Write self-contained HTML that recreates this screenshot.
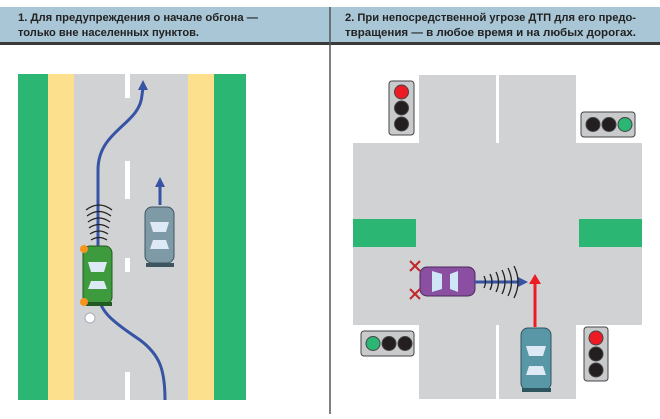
<!DOCTYPE html>
<html><head><meta charset="utf-8"><style>
body{margin:0;background:#fff;width:660px;height:414px;overflow:hidden;font-family:"Liberation Sans","DejaVu Sans",sans-serif}
</style></head><body>
<svg width="660" height="414" viewBox="0 0 660 414" xmlns="http://www.w3.org/2000/svg">
<rect x="0" y="7" width="660" height="36" fill="#a9c6d6"/>
<rect x="0" y="42" width="660" height="3" fill="#3a3a3a"/>
<line x1="330" y1="7" x2="330" y2="414" stroke="#555" stroke-width="1.5"/>
<g font-family="Liberation Sans, sans-serif" font-weight="bold" font-size="11" fill="#222">
<text x="18" y="21" textLength="240" lengthAdjust="spacingAndGlyphs">1. Для предупреждения о начале обгона —</text>
<text x="18" y="36" textLength="181" lengthAdjust="spacingAndGlyphs">только вне населенных пунктов.</text>
<text x="345" y="21" textLength="291" lengthAdjust="spacingAndGlyphs">2. При непосредственной угрозе ДТП для его предо-</text>
<text x="345" y="36" textLength="291" lengthAdjust="spacingAndGlyphs">твращения — в любое время и на любых дорогах.</text>
</g>
<!-- left road -->
<rect x="18" y="74" width="30" height="326" fill="#2bb673"/>
<rect x="48" y="74" width="26" height="326" fill="#fde08e"/>
<rect x="74" y="74" width="114" height="326" fill="#d1d2d4"/>
<rect x="188" y="74" width="26" height="326" fill="#fde08e"/>
<rect x="214" y="74" width="32" height="326" fill="#2bb673"/>
<g fill="#fff"><rect x="125" y="74" width="5" height="24"/><rect x="125" y="161" width="5" height="38"/><rect x="125" y="258" width="5" height="14"/><rect x="125" y="372" width="5" height="28"/></g>
<path d="M165 400 C165 370 160 355 140 340 C110 320 98 310 98 290 L98 170 C98 130 140 125 142 95 L143 88" fill="none" stroke="#3753a4" stroke-width="3"/>
<polygon points="143,80 138,90 148,90" fill="#3753a4"/>
<line x1="160" y1="205" x2="160" y2="185" stroke="#3753a4" stroke-width="3"/>
<polygon points="160,177 155,187 165,187" fill="#3753a4"/>
<g fill="none" stroke="#222" stroke-width="1.3">
<path d="M86 210 Q99 200 112 210"/><path d="M87 216 Q99 207 111 216"/><path d="M88 222 Q99 214 110 222"/><path d="M89 228 Q99 221 109 228"/><path d="M90 234 Q99 228 108 234"/><path d="M91 240 Q99 235 107 240"/>
</g>
<!-- green car -->
<rect x="83" y="246" width="29" height="58" rx="7" fill="#3d9a3d" stroke="#225a22"/>
<polygon points="88,262 107,262 104,272 91,272" fill="#dde9f5"/>
<polygon points="88,289 107,289 104,281 91,281" fill="#dde9f5"/>
<rect x="86" y="302" width="26" height="4" fill="#225a22"/>
<circle cx="84" cy="249" r="4" fill="#f7941d"/>
<circle cx="84" cy="302" r="4" fill="#f7941d"/>
<circle cx="90" cy="318" r="5" fill="#fff" stroke="#aab"/>
<!-- gray car -->
<rect x="145" y="207" width="29" height="56" rx="7" fill="#7d9aa6" stroke="#3e5560"/>
<polygon points="150,222 169,222 166,232 153,232" fill="#dde9f5"/>
<polygon points="150,249 169,249 166,240 153,240" fill="#dde9f5"/>
<rect x="146" y="263" width="28" height="4" fill="#3e5560"/>
<!-- intersection -->
<rect x="353" y="143" width="289" height="182" fill="#d1d2d4"/>
<rect x="419" y="75" width="157" height="70" fill="#d1d2d4"/>
<rect x="419" y="323" width="157" height="76" fill="#d1d2d4"/>
<rect x="496" y="75" width="3" height="68" fill="#fff"/>
<rect x="496" y="325" width="3" height="74" fill="#fff"/>
<rect x="353" y="219" width="63" height="28" fill="#2bb673"/>
<rect x="579" y="219" width="63" height="28" fill="#2bb673"/>
<!-- lights -->
<g stroke="#444" stroke-width="1">
<rect x="389" y="81" width="25" height="54" rx="3" fill="#c9cacc"/>
<circle cx="401.5" cy="92" r="7" fill="#ed1c24"/><circle cx="401.5" cy="108" r="7" fill="#231f20"/><circle cx="401.5" cy="124" r="7" fill="#231f20"/>
<rect x="581" y="112" width="54" height="25" rx="3" fill="#c9cacc"/>
<circle cx="593" cy="124.5" r="7" fill="#231f20"/><circle cx="609" cy="124.5" r="7" fill="#231f20"/><circle cx="625" cy="124.5" r="7" fill="#2bb673"/>
<rect x="361" y="331" width="53" height="25" rx="3" fill="#c9cacc"/>
<circle cx="373" cy="343.5" r="7" fill="#2bb673"/><circle cx="389" cy="343.5" r="7" fill="#231f20"/><circle cx="405" cy="343.5" r="7" fill="#231f20"/>
<rect x="584" y="327" width="24" height="54" rx="3" fill="#c9cacc"/>
<circle cx="596" cy="338" r="7" fill="#ed1c24"/><circle cx="596" cy="354" r="7" fill="#231f20"/><circle cx="596" cy="370" r="7" fill="#231f20"/>
</g>
<!-- purple car -->
<rect x="420" y="267" width="55" height="29" rx="7" fill="#8a4fa0" stroke="#4b2a5a"/>
<polygon points="432,271 442,274 442,289 432,292" fill="#cfe6f6"/>
<polygon points="458,271 450,274 450,289 458,292" fill="#cfe6f6"/>
<line x1="475" y1="282" x2="522" y2="282" stroke="#3753a4" stroke-width="3"/>
<polygon points="528,282 518,277 518,287" fill="#3753a4"/>
<g fill="none" stroke="#222" stroke-width="1.3">
<path d="M484 276 Q487 282 484 288"/><path d="M490 274 Q494 282 490 290"/><path d="M496 272 Q501 282 496 292"/><path d="M502 270 Q508 282 502 294"/><path d="M508 268 Q515 282 508 296"/><path d="M514 266 Q522 282 514 298"/>
</g>
<g stroke="#c1272d" stroke-width="2"><line x1="410" y1="261" x2="420" y2="271"/><line x1="420" y1="261" x2="410" y2="271"/><line x1="410" y1="289" x2="420" y2="299"/><line x1="420" y1="289" x2="410" y2="299"/></g>
<!-- red arrow -->
<line x1="535" y1="327" x2="535" y2="282" stroke="#ed1c24" stroke-width="3"/>
<polygon points="535,274 529,284 541,284" fill="#ed1c24"/>
<!-- teal car -->
<rect x="521" y="328" width="30" height="62" rx="7" fill="#5a97a6" stroke="#2d5560"/>
<polygon points="526,346 546,346 543,356 529,356" fill="#dde9f5"/>
<polygon points="526,375 546,375 543,366 529,366" fill="#dde9f5"/>
<rect x="522" y="388" width="29" height="4" fill="#2d5560"/>
</svg>
</body></html>
